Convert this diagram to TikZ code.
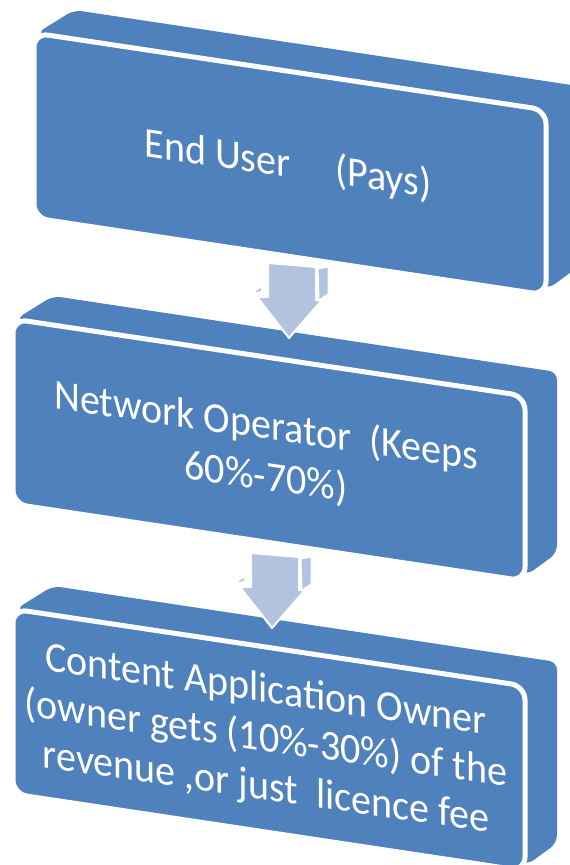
\documentclass[tikz,border=0pt]{standalone}
\usepackage{fontspec}
\setmainfont{Carlito}
\definecolor{slabblue}{HTML}{4F81BD}
\definecolor{arrowblue}{RGB}{179,194,222}

\begin{document}
\begin{tikzpicture}[x=1pt,y=-1pt,
  slabbody/.style={fill=slabblue, rounded corners=8pt},
  slabface/.style={fill=slabblue, draw=white, line width=5pt, rounded corners=14pt},
  slabtext/.style={text=white, font=\fontsize{40}{48}\selectfont, align=center,
                   inner sep=0pt, yslant=-0.145, yscale=1.06},
  arrowface/.style={fill=arrowblue, draw=white, line width=2pt, line join=round},
  arrowside/.style={fill=arrowblue, draw=white, line width=1pt, line join=round},
  % a tilted slab: front face with its top and right side faces behind it
  pics/slab/.style={code={
    \fill[slabbody] (3,0) -- (40,-23) -- (544,53) -- (544,234) -- (514,256)
                    -- (300,150) -- cycle;
    \draw[slabface] (0,0) -- (512,77) -- (512,262) -- (0,185) -- cycle;
  }},
  % a block arrow pointing down, origin at its tip
  pics/downarrow/.style={code={
    \fill[arrowside] (-34,-47) -- (-28,-51) -- (-27,-47) -- (-33,-45) -- cycle;
    \draw[arrowside] (29,-69) -- (39,-71) -- (39,-44) -- (30,-38) -- cycle;
    \draw[arrowface] (-21,-75) -- (27,-71) -- (27,-38) -- (33,-38) -- (0,0)
                     -- (-32,-41) -- (-21,-41) -- cycle;
  }}
]
\useasboundingbox (0,0) rectangle (570,865);
\clip (0,0) rectangle (570,865);

% the three slabs
\pic at (34,33)  {slab};
\pic at (13,319) {slab};
\pic at (13,609) {slab};

% their labels
\node[slabtext] (enduser)  at (288,165) {End User\ \ \ \ \ (Pays)};
\node[slabtext] (operator) at (266,452) {Network Operator\ \ (Keeps\\60\%-70\%)};
\node[slabtext, font=\fontsize{40}{46}\selectfont] (owner) at (266,740)
  {Content Application Owner\\(owner gets (10\%-30\%) of the\\revenue ,or just\ \ licence fee};

% arrows between the slabs
\pic at (289,338) {downarrow};
\pic at (272,628) {downarrow};
\end{tikzpicture}
\end{document}
